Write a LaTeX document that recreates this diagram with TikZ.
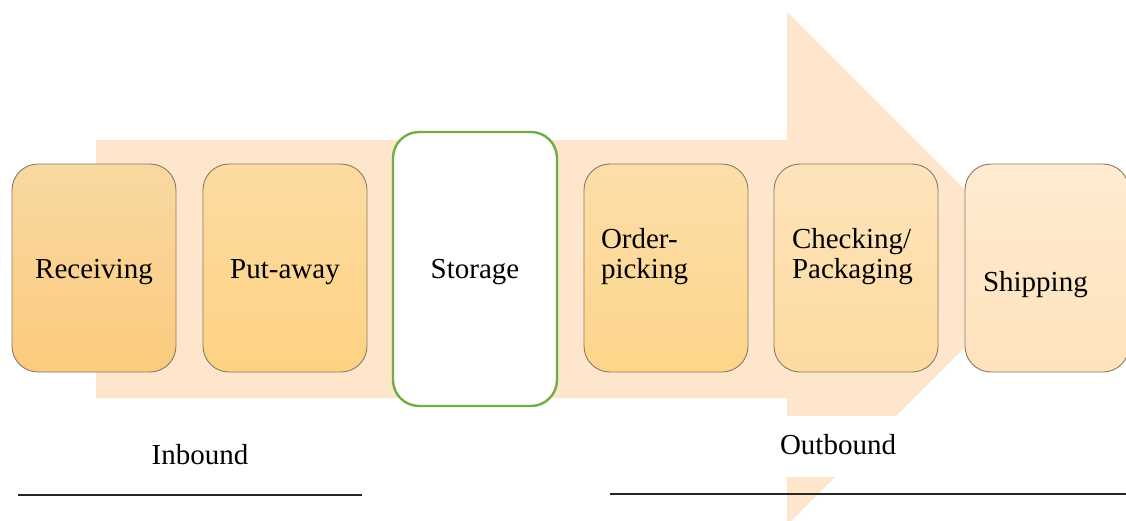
\documentclass[tikz,border=0pt]{standalone}
\usepackage{fontspec}
\setmainfont{Liberation Serif}
\begin{document}
\begin{tikzpicture}[x=1pt,y=-1pt,
  every node/.style={inner sep=0pt, outer sep=0pt},
  stage/.style={draw=boxline, line width=0.9pt, rounded corners=26pt,
    minimum width=164pt, minimum height=208pt, anchor=north west},
  label/.style={font=\fontsize{29}{30}\selectfont, text=black},
  rule/.style={draw=black!85, line width=1.3pt}]
\definecolor{arrowfill}{HTML}{FDE6CC}
\definecolor{boxline}{HTML}{8A7A62}
\definecolor{storeline}{HTML}{70AD47}
\useasboundingbox (0,0) rectangle (1126,520);
\clip (0,0) rectangle (1126,520);
\fill[white] (0,0) rectangle (1126,520);

% large background flow arrow
\fill[arrowfill] (96,140) -- (787,140) -- (787,12) -- (1043.5,268.5)
  -- (787,525) -- (787,398) -- (96,398) -- cycle;

% process stages
\node[stage, top color={rgb,255:red,249;green,216;blue,161}, bottom color={rgb,255:red,251;green,203;blue,125}]
  (recv) at (12,164) {};
\node[stage, top color={rgb,255:red,253;green,219;blue,161}, bottom color={rgb,255:red,253;green,210;blue,131}]
  (put) at (203,164) {};
\node[stage, draw=storeline, line width=2.4pt, fill=white, minimum width=164pt, minimum height=274pt]
  (store) at (393,132) {};
\node[stage, top color={rgb,255:red,253;green,222;blue,170}, bottom color={rgb,255:red,253;green,213;blue,138}]
  (pick) at (584,164) {};
\node[stage, top color={rgb,255:red,254;green,228;blue,188}, bottom color={rgb,255:red,253;green,218;blue,158}]
  (check) at (774,164) {};
\node[stage, top color={rgb,255:red,254;green,235;blue,209}, bottom color={rgb,255:red,254;green,226;blue,187}]
  (ship) at (965,164) {};

% stage names
\node[label, anchor=base] (trecv) at (94,278) {Receiving};
\node[label, anchor=base] (tput) at (285,278) {Put-away};
\node[label, anchor=base] (tstore) at (475,278) {Storage};
\node[label, anchor=base west] (tpick1) at (601,248) {Order-};
\node[label, anchor=base west] (tpick2) at (601,278) {picking};
\node[label, anchor=base west] (tcheck1) at (792,248) {Checking/};
\node[label, anchor=base west] (tcheck2) at (792,278) {Packaging};
\node[label, anchor=base west] (tship) at (983,291) {Shipping};

% phase captions
\node[label, anchor=base] (inb) at (200,464) {Inbound};
\fill[white] (770,416) rectangle (912,477);
\node[label, anchor=base] (outb) at (838,454) {Outbound};

% underline rules
\coordinate (inL) at (18,495);
\coordinate (inR) at (362,495);
\coordinate (outL) at (610,494);
\coordinate (outR) at (1126,494);
\draw[rule] (inL) -- (inR);
\draw[rule] (outL) -- (outR);
\end{tikzpicture}
\end{document}
